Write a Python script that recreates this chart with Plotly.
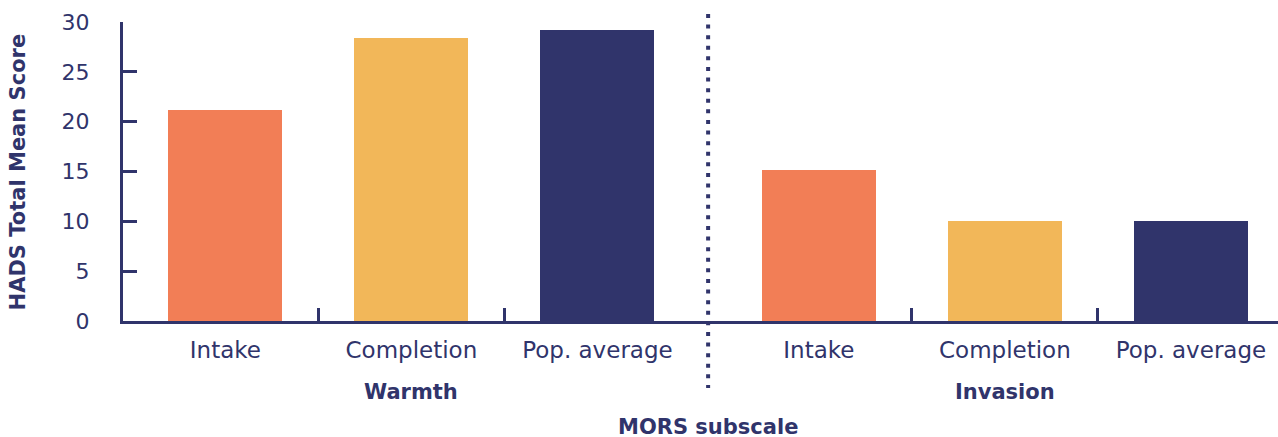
import plotly.graph_objects as go

# Mean HADS total score by MORS subscale and time point
groups = ["Warmth", "Invasion"]
stages = ["Intake", "Completion", "Pop. average"]
warmth_scores = [21.2, 28.4, 29.2]
invasion_scores = [15.2, 10.0, 10.0]
stage_colors = ["#F27E56", "#F2B759", "#30346B"]
y_ticks = [0, 5, 10, 15, 20, 25, 30]

navy = "#30346B"
font_family = "DejaVu Sans"

# x positions: three bars per group, with a wider gap between the groups
group_gap = 1.19
warmth_x = [0, 1, 2]
invasion_x = [p + 2 + group_gap for p in warmth_x]
separator_x = (warmth_x[-1] + invasion_x[0]) / 2
x_range = [-0.55, invasion_x[-1] + 0.468]

fig = go.Figure()
for xs, ys in ((warmth_x, warmth_scores), (invasion_x, invasion_scores)):
    fig.add_trace(go.Bar(
        x=xs, y=ys, width=0.613,
        marker=dict(color=stage_colors, line=dict(width=0)),
        showlegend=False, hoverinfo="skip",
    ))

# Ticks between bars within each group (separate overlaying axis)
between = [(a + b) / 2 for a, b in zip(warmth_x[:-1], warmth_x[1:])] + \
          [(a + b) / 2 for a, b in zip(invasion_x[:-1], invasion_x[1:])]
fig.add_trace(go.Scatter(x=[x_range[0]], y=[0], xaxis="x2", mode="none",
                         showlegend=False, hoverinfo="skip"))

fig.update_layout(
    width=1278, height=437,
    margin=dict(l=123, r=0, t=22, b=116),
    plot_bgcolor="white", paper_bgcolor="white",
    font=dict(family=font_family, color=navy),
    bargap=0,
    xaxis=dict(
        range=x_range, tickmode="array",
        tickvals=warmth_x + invasion_x, ticktext=stages + stages,
        ticks="", showgrid=False, zeroline=False,
        showline=True, linecolor=navy, linewidth=3,
        tickfont=dict(size=23, color=navy), ticklabelstandoff=6,
    ),
    xaxis2=dict(
        range=x_range, overlaying="x", side="bottom",
        tickmode="array", tickvals=between, showticklabels=False,
        ticks="inside", ticklen=13, tickwidth=2.5, tickcolor=navy,
        showgrid=False, zeroline=False, showline=False,
    ),
    yaxis=dict(
        range=[0, 30], tickmode="array", tickvals=y_ticks,
        ticks="inside", ticklen=14, tickwidth=2.5, tickcolor=navy,
        showgrid=False, zeroline=False,
        showline=True, linecolor=navy, linewidth=3,
        tickfont=dict(size=22, color=navy), ticklabelstandoff=26,
    ),
)

span = x_range[1] - x_range[0]
sep_paper = (separator_x - x_range[0]) / span
fig.add_shape(type="line", xref="paper", yref="paper",
              x0=sep_paper, x1=sep_paper, y0=1.027, y1=-0.224,
              line=dict(color=navy, width=4, dash="4px,6.6px"))

for name, xs in zip(groups, (warmth_x, invasion_x)):
    fig.add_annotation(x=xs[1], y=-0.237, xref="x", yref="paper",
                       yanchor="middle",
                       text=f"<b>{name}</b>", showarrow=False,
                       font=dict(size=21, color=navy))

fig.add_annotation(x=separator_x, y=-0.355, xref="x", yref="paper",
                   yanchor="middle",
                   text="<b>MORS subscale</b>", showarrow=False,
                   font=dict(size=21, color=navy))
fig.add_annotation(x=-0.091, y=0.5, xref="paper", yref="paper",
                   xanchor="center", yanchor="middle",
                   text="<b>HADS Total Mean Score</b>", textangle=-90,
                   showarrow=False, font=dict(size=21, color=navy))

fig.write_html("out.html")
